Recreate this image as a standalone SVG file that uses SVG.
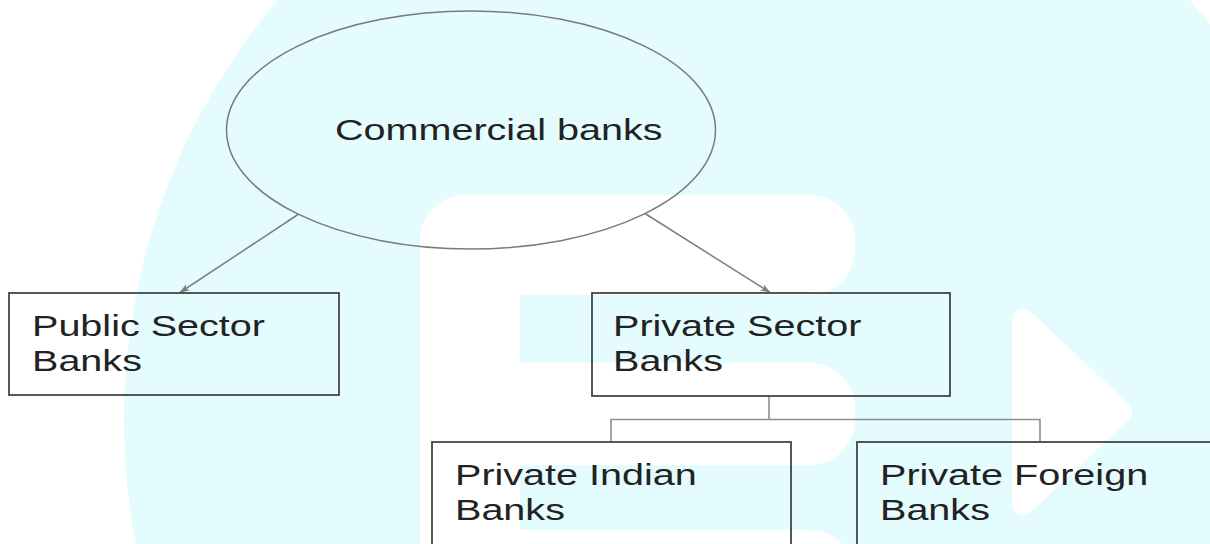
<svg xmlns="http://www.w3.org/2000/svg" width="1210" height="544" viewBox="0 0 1210 544">
  <defs>
    <style>
      .bg-cyan { fill: #e4fcfd; }
      .bg-white { fill: #ffffff; }
      .node-box { fill: none; stroke: #454545; stroke-width: 1.8; }
      .node-ellipse { fill: none; stroke: #7a7a7a; stroke-width: 1.5; }
      .label { font-family: "Liberation Sans", Arial, Helvetica, sans-serif; font-size: 29.3px; fill: #222222; }
      .arrow { fill: none; stroke: #7d7d7d; stroke-width: 1.5; marker-end: url(#arrowhead); }
      .bracket { fill: none; stroke: #8f8f8f; stroke-width: 1.6; }
    </style>
    <marker id="arrowhead" viewBox="0 0 10 8" refX="9.5" refY="4" markerWidth="10" markerHeight="8" markerUnits="userSpaceOnUse" orient="auto">
      <path d="M0,0.5 L10,4 L0,7.5 L2.5,4 Z" fill="#7d7d7d"/>
    </marker>
  </defs>

  <!-- background watermark -->
  <g id="background">
    <rect x="0" y="0" width="1210" height="544" class="bg-white"/>
    <ellipse cx="734" cy="420" rx="610" ry="632" class="bg-cyan"/>
    <rect x="420" y="195" width="435" height="100" rx="45" class="bg-white"/>
    <rect x="420" y="250" width="100" height="310" class="bg-white"/>
    <rect x="420" y="363" width="435" height="102" rx="45" class="bg-white"/>
    <rect x="420" y="530" width="435" height="100" rx="45" class="bg-white"/>
    <polygon points="1023,320 1023,504 1121,412" fill="#ffffff" stroke="#ffffff" stroke-width="22" stroke-linejoin="round"/>
  </g>

  <!-- connectors -->
  <g id="connectors">
    <line x1="298" y1="214.5" x2="180" y2="292.5" class="arrow"/>
    <line x1="645" y1="213.5" x2="770" y2="292.5" class="arrow"/>
    <polyline points="769,396 769,419.5" class="bracket"/>
    <polyline points="611,442 611,419.5 1040,419.5 1040,442" class="bracket"/>
  </g>

  <g id="node-commercial">
    <ellipse cx="471" cy="130" rx="244.5" ry="119" class="node-ellipse"/>
    <text class="label" transform="translate(335,140) scale(1.35,1)">Commercial banks</text>
  </g>

  <g id="node-public">
    <rect x="9" y="293" width="330" height="102" class="node-box"/>
    <text class="label" transform="translate(32,336) scale(1.35,1)"><tspan x="0" y="0">Public Sector</tspan><tspan x="0" y="35.5">Banks</tspan></text>
  </g>

  <g id="node-private">
    <rect x="592" y="293" width="358" height="103" class="node-box"/>
    <text class="label" transform="translate(613,336) scale(1.35,1)"><tspan x="0" y="0">Private Sector</tspan><tspan x="0" y="35.5">Banks</tspan></text>
  </g>

  <g id="node-private-indian">
    <rect x="432" y="442" width="359" height="130" class="node-box"/>
    <text class="label" transform="translate(455,485) scale(1.35,1)"><tspan x="0" y="0">Private Indian</tspan><tspan x="0" y="35.5">Banks</tspan></text>
  </g>

  <g id="node-private-foreign">
    <rect x="857" y="442" width="380" height="130" class="node-box"/>
    <text class="label" transform="translate(880,485) scale(1.35,1)"><tspan x="0" y="0">Private Foreign</tspan><tspan x="0" y="35.5">Banks</tspan></text>
  </g>
</svg>
